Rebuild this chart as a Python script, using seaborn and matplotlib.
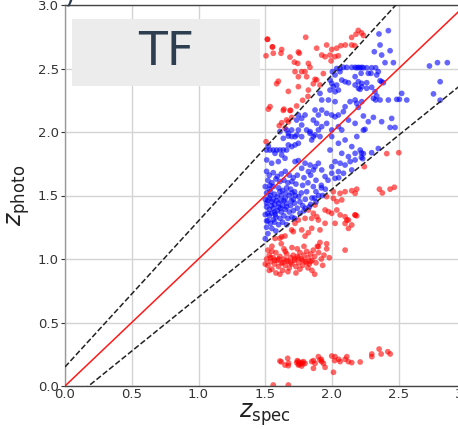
import numpy as np
import pandas as pd
import matplotlib
matplotlib.use("Agg")
import matplotlib.pyplot as plt
import seaborn as sns
from matplotlib.patches import Rectangle

# ---------------- data (z_spec, z_photo) ----------------
blue_upper = [
    (2.003, 2.475), (2.023, 2.449), (2.06, 2.475), (2.085, 2.509), (2.11, 2.509), (2.148, 2.509),
    (2.173, 2.509), (2.198, 2.509), (2.223, 2.509), (2.035, 2.50), (2.06, 2.50), (2.073, 2.409),
    (2.098, 2.396), (2.123, 2.388), (2.173, 2.436), (2.218, 2.462), (1.985, 2.409), (1.998, 2.383),
    (2.01, 2.357), (2.035, 2.37), (1.985, 2.33), (2.023, 2.317), (2.048, 2.33), (2.173, 2.37),
    (2.198, 2.344), (2.223, 2.357), (1.91, 2.304), (1.923, 2.252), (1.973, 2.252), (2.023, 2.239),
    (1.873, 2.173), (1.898, 2.134), (1.923, 2.173), (1.96, 2.147), (1.998, 2.134), (2.023, 2.12),
    (2.048, 2.134), (2.085, 2.16), (2.098, 2.199), (2.135, 2.239), (2.173, 2.252), (2.223, 2.239),
    (1.86, 2.094), (1.885, 2.068), (1.923, 2.042), (1.96, 2.068), (1.998, 2.016), (2.048, 2.042),
    (2.073, 2.016), (2.123, 2.094), (2.173, 2.068), (1.798, 2.134), (1.773, 2.107), (1.748, 2.134),
    (1.735, 2.094), (1.773, 2.055), (1.81, 2.016), (1.835, 1.99), (1.698, 2.016), (1.673, 1.968),
    (1.723, 1.963), (1.773, 1.963), (1.86, 1.963), (1.898, 2.016), (1.635, 1.95), (1.66, 2.016),
    (1.748, 2.016),
]
blue_right = [
    (2.352, 2.772), (2.422, 2.798), (2.36, 2.685), (2.317, 2.632), (2.372, 2.606), (2.435, 2.64),
    (2.397, 2.546), (2.46, 2.546), (2.185, 2.506), (2.21, 2.506), (2.235, 2.506), (2.26, 2.506),
    (2.297, 2.506), (2.327, 2.506), (2.272, 2.462), (2.292, 2.462), (2.347, 2.475), (2.335, 2.449),
    (2.197, 2.396), (2.222, 2.383), (2.26, 2.388), (2.21, 2.336), (2.26, 2.344), (2.297, 2.352),
    (2.36, 2.404), (2.372, 2.396), (2.385, 2.388), (2.522, 2.304), (2.322, 2.317), (2.335, 2.283),
    (2.31, 2.265), (2.327, 2.252), (2.36, 2.252), (2.422, 2.252), (2.485, 2.257), (2.505, 2.257),
    (2.56, 2.252), (2.185, 2.226), (2.197, 2.194), (2.235, 2.126), (2.272, 2.081), (2.31, 2.115),
    (2.372, 2.081), (2.447, 2.107), (2.247, 2.021), (2.435, 2.036), (2.472, 2.036),
    (2.73, 2.52), (2.79, 2.546), (2.864, 2.546), (2.81, 2.396), (2.76, 2.30), (2.81, 2.25),
    (2.347, 1.87), (2.297, 1.837), (2.22, 1.835), (2.235, 1.83), (2.22, 1.80), (2.23, 1.79),
    (2.235, 2.015),
]
blue_middle = [
    (1.51, 1.858), (1.535, 1.858), (1.56, 1.858), (1.585, 1.858), (1.61, 1.858), (1.635, 1.858),
    (1.66, 1.858), (1.523, 1.89), (1.573, 1.832), (1.623, 1.819), (1.673, 1.898), (1.698, 1.885),
    (1.723, 1.898), (1.748, 1.911), (1.698, 1.964), (1.736, 1.977), (1.673, 1.99), (1.61, 2.003),
    (1.836, 2.003), (1.873, 1.977), (1.91, 1.964), (1.848, 1.937), (1.998, 1.964), (2.048, 1.911),
    (2.098, 1.937), (2.148, 1.885), (2.186, 1.964), (1.985, 1.858), (2.073, 1.832), (2.123, 1.806),
    (2.173, 1.832), (2.211, 1.858), (1.511, 1.78), (1.548, 1.754), (1.598, 1.767), (1.648, 1.793),
    (1.723, 1.767), (1.748, 1.775), (1.798, 1.754), (1.836, 1.74), (1.873, 1.727), (1.898, 1.754),
    (1.861, 1.701), (1.823, 1.688), (1.773, 1.714), (1.923, 1.701), (1.998, 1.727), (2.023, 1.767),
    (2.061, 1.754), (2.098, 1.74), (2.136, 1.767), (2.173, 1.78), (2.048, 1.688), (2.086, 1.675),
    (2.148, 1.701), (1.998, 1.675), (1.948, 1.649), (2.023, 1.635), (1.97, 1.62), (2.05, 1.64),
    (1.92, 1.56), (1.88, 1.53),
]
blue_core = [
    (1.51, 1.69), (1.53, 1.66), (1.56, 1.68), (1.59, 1.65), (1.62, 1.67), (1.65, 1.69), (1.68, 1.66),
    (1.71, 1.64), (1.74, 1.66), (1.52, 1.62), (1.55, 1.60), (1.58, 1.63), (1.61, 1.61), (1.64, 1.62),
    (1.67, 1.60), (1.70, 1.61), (1.73, 1.59), (1.50, 1.57), (1.53, 1.55), (1.56, 1.57), (1.60, 1.56),
    (1.63, 1.54), (1.66, 1.56), (1.69, 1.55), (1.72, 1.53), (1.51, 1.52), (1.54, 1.50), (1.57, 1.51),
    (1.59, 1.49), (1.62, 1.50), (1.65, 1.48), (1.68, 1.50), (1.71, 1.47), (1.75, 1.49), (1.52, 1.46),
    (1.55, 1.45), (1.57, 1.43), (1.60, 1.44), (1.63, 1.42), (1.66, 1.44), (1.69, 1.42), (1.72, 1.44),
    (1.51, 1.41), (1.53, 1.39), (1.56, 1.40), (1.59, 1.38), (1.62, 1.37), (1.65, 1.39), (1.68, 1.37),
    (1.71, 1.38), (1.74, 1.40), (1.50, 1.35), (1.53, 1.34), (1.55, 1.36), (1.58, 1.33), (1.61, 1.32),
    (1.64, 1.34), (1.67, 1.32), (1.70, 1.33), (1.52, 1.30), (1.54, 1.28), (1.57, 1.29), (1.60, 1.27),
    (1.63, 1.29), (1.66, 1.27), (1.51, 1.25), (1.55, 1.24), (1.52, 1.20), (1.50, 1.16), (1.58, 1.22),
    (1.53, 1.48), (1.545, 1.42), (1.585, 1.46), (1.615, 1.40), (1.655, 1.52), (1.535, 1.58),
    (1.575, 1.35), (1.695, 1.46), (1.725, 1.50), (1.76, 1.45), (1.78, 1.42), (1.80, 1.47),
    (1.77, 1.52), (1.81, 1.53), (1.79, 1.38), (1.83, 1.41), (1.85, 1.48), (1.87, 1.48), (1.76, 1.36),
    (1.80, 1.40), (1.84, 1.43), (1.88, 1.45), (1.90, 1.50), (1.78, 1.58), (1.82, 1.60), (1.86, 1.57),
    (1.79, 1.64), (1.84, 1.66), (1.88, 1.62), (1.92, 1.58), (1.72, 1.32), (1.95, 1.55), (1.93, 1.50),
    (1.51, 1.44), (1.56, 1.47), (1.61, 1.53), (1.64, 1.46), (1.52, 1.36), (1.57, 1.37), (1.66, 1.41),
    (1.70, 1.52), (1.54, 1.53), (1.60, 1.41), (1.50, 1.47), (1.51, 1.30), (1.56, 1.31), (1.62, 1.46),
]
red_high = [
    (1.803, 2.746), (1.518, 2.73), (1.506, 2.60), (1.56, 2.62), (1.553, 2.67), (1.618, 2.62),
    (1.685, 2.59), (1.748, 2.63), (1.755, 2.62), (1.718, 2.55), (1.743, 2.54), (1.885, 2.66),
    (1.96, 2.685), (1.998, 2.65), (2.035, 2.66), (2.067, 2.68), (2.10, 2.685), (2.147, 2.685),
    (2.17, 2.68), (2.147, 2.745), (2.235, 2.76), (1.923, 2.606), (1.948, 2.593), (1.985, 2.606),
    (2.022, 2.593), (2.047, 2.60), (1.993, 2.56), (1.823, 2.54), (1.835, 2.51), (1.798, 2.475),
    (1.773, 2.475), (1.723, 2.475), (1.748, 2.435), (1.81, 2.435), (1.873, 2.415), (1.885, 2.41),
    (1.86, 2.38), (1.91, 2.37), (1.935, 2.46), (1.598, 2.40), (1.673, 2.32), (1.748, 2.357),
    (1.823, 2.33), (1.536, 2.20), (1.523, 2.18), (1.635, 2.17), (1.685, 2.17), (1.735, 2.205),
    (1.66, 2.095), (1.623, 2.073), (1.673, 2.08), (1.698, 2.115), (1.515, 2.73), (1.555, 2.67),
    (1.623, 2.65), (2.197, 2.80), (2.222, 2.78), (2.18, 2.77), (1.506, 1.924), (1.648, 2.03),
    (1.605, 2.05), (1.64, 2.18), (1.69, 2.17), (1.78, 2.25), (1.82, 2.28), (1.585, 2.38),
]
red_right = [
    (2.41, 1.83), (2.50, 1.837), (2.242, 1.727), (2.185, 1.55), (2.355, 1.55), (2.377, 1.52),
    (2.435, 1.55), (2.467, 1.565), (2.185, 1.34),
]
red_mid = [
    (2.01, 1.53), (2.06, 1.517), (2.098, 1.53), (2.148, 1.538), (2.173, 1.517), (1.96, 1.491),
    (2.01, 1.478), (2.036, 1.452), (2.073, 1.465), (1.873, 1.425), (1.823, 1.386), (1.86, 1.36),
    (1.886, 1.333), (1.848, 1.32), (1.898, 1.307), (1.798, 1.32), (1.748, 1.307), (1.948, 1.386),
    (1.973, 1.373), (1.998, 1.36), (2.036, 1.386), (2.061, 1.347), (2.098, 1.333), (2.123, 1.307),
    (2.148, 1.268), (2.173, 1.347), (1.91, 1.229), (1.848, 1.242), (1.948, 1.281), (2.023, 1.281),
    (1.698, 1.229), (1.648, 1.181), (1.61, 1.163), (1.773, 1.229), (1.723, 1.281), (2.098, 1.28),
    (2.123, 1.241), (2.111, 1.307), (2.173, 1.346),
]
red_one = [
    (1.51, 1.00), (1.52, 0.95), (1.53, 1.03), (1.54, 0.98), (1.55, 0.92), (1.56, 1.01), (1.57, 0.96),
    (1.58, 1.05), (1.59, 0.99), (1.60, 0.94), (1.61, 1.02), (1.62, 0.97), (1.63, 0.91), (1.64, 1.00),
    (1.65, 0.95), (1.66, 1.04), (1.67, 0.98), (1.68, 0.93), (1.69, 1.01), (1.70, 0.96), (1.71, 1.03),
    (1.72, 0.99), (1.73, 0.94), (1.74, 1.02), (1.75, 0.97), (1.76, 1.05), (1.77, 1.00), (1.78, 0.95),
    (1.79, 1.03), (1.80, 0.98), (1.81, 1.06), (1.82, 1.01), (1.83, 0.96), (1.84, 1.04), (1.85, 0.99),
    (1.86, 1.07), (1.87, 1.02), (1.88, 0.97), (1.90, 1.05), (1.92, 1.00), (1.94, 1.03), (1.96, 1.08),
    (1.98, 1.01), (1.52, 1.07), (1.55, 1.10), (1.58, 0.89), (1.61, 0.88), (1.64, 1.08), (1.67, 0.90),
    (1.70, 1.09), (1.73, 0.89), (1.76, 0.92), (1.79, 1.10), (1.82, 0.93), (1.85, 0.91), (1.89, 1.10),
    (1.93, 0.95), (1.54, 1.01), (1.57, 0.99), (1.60, 1.00), (1.63, 0.97), (1.66, 0.99), (1.69, 0.97),
    (1.72, 1.00), (1.75, 1.01), (1.78, 0.99), (1.81, 0.97), (1.84, 0.98), (1.53, 0.91), (1.50, 0.96),
    (1.87, 0.88), (1.74, 1.08), (1.55, 1.06), (1.65, 1.06), (1.573, 1.162), (1.623, 1.175),
    (1.71, 1.215), (1.798, 1.18), (1.823, 1.207), (1.898, 1.097), (2.098, 1.07), (1.91, 1.13),
    (1.96, 1.12), (1.62, 1.12),
]
red_low = [
    (1.61, 0.197), (1.668, 0.218), (1.648, 0.165), (1.673, 0.16), (1.736, 0.184), (1.748, 0.192),
    (1.761, 0.178), (1.773, 0.186), (1.786, 0.192), (1.748, 0.165), (1.773, 0.157), (1.798, 0.178),
    (1.848, 0.192), (1.861, 0.20), (1.873, 0.178), (1.898, 0.231), (1.91, 0.205), (1.923, 0.192),
    (1.936, 0.178), (1.861, 0.139), (1.948, 0.147), (1.998, 0.236), (2.023, 0.231), (2.011, 0.108),
    (2.061, 0.192), (2.098, 0.21), (2.111, 0.231), (2.123, 0.192), (2.148, 0.184), (2.211, 0.189),
    (2.298, 0.252), (2.298, 0.231), (2.353, 0.291), (2.368, 0.252), (2.418, 0.27), (2.436, 0.252),
    (1.56, 0.008), (1.673, 0.008), (1.74, 0.20), (1.755, 0.17), (1.78, 0.175), (1.62, 0.19),
    (1.675, 0.18), (1.92, 0.21), (2.02, 0.20), (2.05, 0.21),
]

ticks = [0.0, 0.5, 1.0, 1.5, 2.0, 2.5, 3.0]
tick_labels = ["0.0", "0.5", "1.0", "1.5", "2.0", "2.5", "3.0"]

# ---------------- build table ----------------
red_pts = red_high + red_right + red_mid + red_one + red_low
blue_pts = blue_upper + blue_right + blue_middle + blue_core
df = pd.DataFrame(
    [(x, y, "outlier") for x, y in red_pts] + [(x, y, "inlier") for x, y in blue_pts],
    columns=["zspec", "zphoto", "group"],
)

sns.set_style("whitegrid", {"grid.color": "#d3d3d3", "axes.edgecolor": "#444444"})
plt.rcParams["font.family"] = ["DejaVu Sans"]

fig = plt.figure(figsize=(4.58, 4.29), dpi=100)
ax = fig.add_axes([65 / 458, 43 / 429, 400.5 / 458, 381 / 429])

sns.scatterplot(data=df, x="zspec", y="zphoto", hue="group",
                palette={"outlier": "#ff0000", "inlier": "#0000ff"},
                s=17, alpha=0.6, linewidth=0, legend=False, ax=ax, zorder=2)

zz = np.array([0.0, 3.0])
ax.plot(zz, zz, color="#ff1a1a", lw=1.1, zorder=3)
ax.plot(zz, zz + 0.15 * (1 + zz), color="#222222", ls="--", lw=1.1, zorder=3)
ax.plot(zz, zz - 0.15 * (1 + zz), color="#222222", ls="--", lw=1.1, zorder=3)

ax.set_xlim(0, 3)
ax.set_ylim(0, 3)
ax.set_xticks(ticks)
ax.set_xticklabels(tick_labels)
ax.set_yticks(ticks)
ax.set_yticklabels(tick_labels)
ax.grid(True, color="#d3d3d3", lw=1.0)
ax.tick_params(axis="both", labelsize=9.5, colors="#333333", length=3, width=0.8,
               direction="out", pad=1.5)
ax.tick_params(axis="x", length=0)
ax.tick_params(axis="y", left=True)

for side in ["top", "bottom"]:
    ax.spines[side].set_color("#444444")
    ax.spines[side].set_linewidth(1.0)
ax.spines["left"].set_color("#9a9a9a")
ax.spines["left"].set_linewidth(1.0)

ax.set_xlabel(r"$z_{\mathrm{spec}}$", fontsize=17, color="#222222", labelpad=0)
ax.set_ylabel(r"$z_{\mathrm{photo}}$", fontsize=17, color="#222222", labelpad=4)

# "TF" label box
ax.add_patch(Rectangle((0.0175, 0.787), 0.47, 0.176, transform=ax.transAxes,
                       facecolor="#ececec", edgecolor="none", zorder=4))
ax.text(0.252, 0.875, "TF", transform=ax.transAxes, ha="center", va="center",
        fontsize=34, color="#2c3e50", zorder=5)

# partially visible panel label at the very top (only its tail shows)
fig.text(76 / 458, 1 - 2 / 429, ")", ha="right", va="baseline", fontsize=20, color="#2c3e50")

fig.savefig("out.png", dpi=100)
